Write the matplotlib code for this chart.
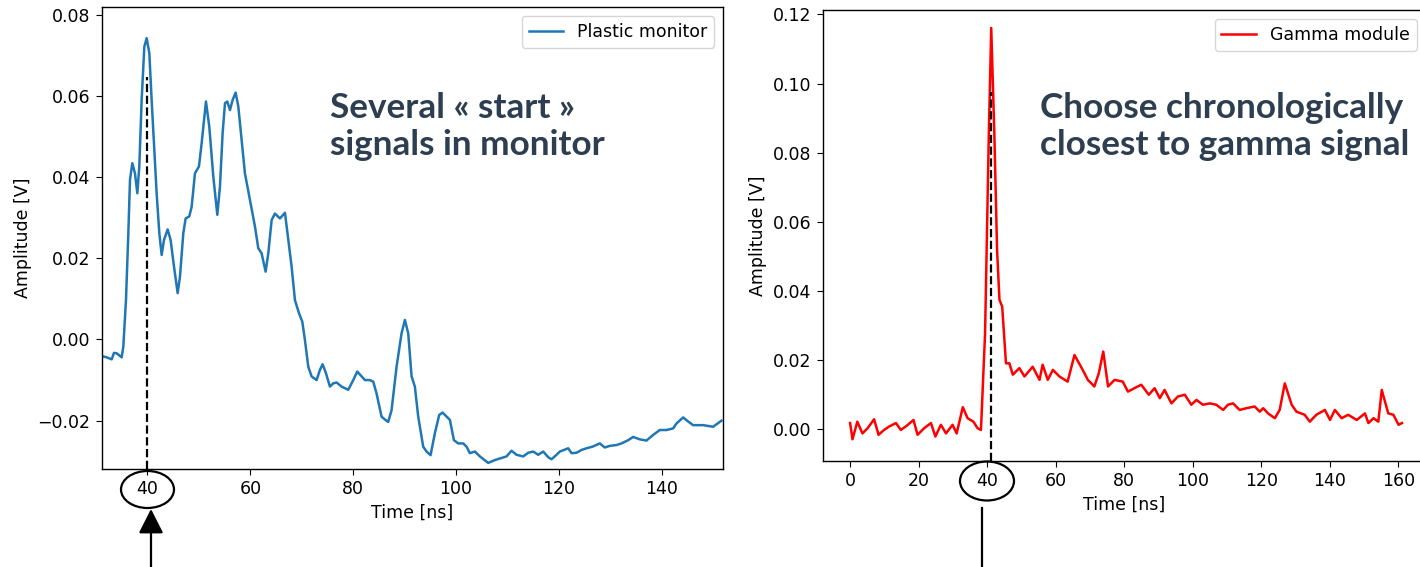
import numpy as np
import matplotlib.pyplot as plt
from matplotlib.patches import Ellipse, FancyArrowPatch
from matplotlib.lines import Line2D

plt.rcParams['font.size'] = 12.5
plt.rcParams['xtick.major.size'] = 4.5
plt.rcParams['ytick.major.size'] = 4.5
plt.rcParams['axes.linewidth'] = 1.0

# plastic monitor signal
mon_t = [31.09, 32.07, 33.04, 33.49, 34.01, 34.98, 35.3, 35.82, 36.28, 36.6, 37.05, 37.57,
         38.03, 38.41, 38.87, 39.39, 39.84, 40.36, 40.81, 41.33, 41.78, 42.3, 42.76, 43.21,
         43.92, 44.5, 45.15, 45.87, 46.32, 46.97, 47.42, 48.13, 48.59, 49.23, 50.01, 50.53,
         51.37, 52.02, 52.8, 53.58, 54.09, 54.61, 55.07, 55.52, 56.04, 56.56, 57.14, 57.66,
         58.3, 58.95, 59.92, 60.9, 61.54, 62.19, 62.97, 63.49, 64.14, 64.78, 65.76, 66.73,
         67.38, 68.02, 68.67, 69.45, 70.1, 70.61, 71.26, 71.91, 72.88, 73.53, 74.05, 74.7,
         75.47, 76.12, 76.77, 77.74, 79.04, 80.01, 80.79, 81.63, 82.28, 83.25, 83.9, 84.54,
         85.51, 86.16, 86.81, 87.46, 88.43, 89.4, 90.05, 90.7, 91.35, 91.99, 92.64, 93.61,
         94.26, 95.04, 95.88, 96.72, 97.37, 98.15, 98.8, 99.58, 100.42, 101.39, 102.04,
         102.68, 103.66, 104.63, 106.25, 107.54, 108.52, 109.81, 110.78, 111.76, 113.05,
         114.02, 115.0, 115.97, 116.94, 117.91, 118.56, 119.53, 120.18, 121.8, 122.45,
         123.42, 124.39, 125.36, 126.53, 127.95, 128.92, 129.9, 131.19, 132.16, 133.46,
         134.43, 135.73, 137.02, 138.32, 139.61, 140.91, 142.21, 142.85, 144.15, 145.12,
         146.09, 148.04, 149.98, 151.6]
mon_v = [-0.0041, -0.0044, -0.0049, -0.0033, -0.0034, -0.0044, -0.0018, 0.0097, 0.0262,
         0.0393, 0.0434, 0.0409, 0.036, 0.0426, 0.059, 0.0721, 0.0742, 0.0705, 0.059, 0.0467,
         0.036, 0.0262, 0.0208, 0.0245, 0.0271, 0.0245, 0.018, 0.0114, 0.0155, 0.0262,
         0.0298, 0.0303, 0.0327, 0.0409, 0.0426, 0.0483, 0.0586, 0.0524, 0.0401, 0.0307,
         0.0376, 0.0508, 0.0582, 0.0586, 0.0565, 0.059, 0.0608, 0.0574, 0.0491, 0.0409,
         0.0344, 0.0278, 0.0225, 0.0212, 0.0167, 0.0212, 0.0294, 0.031, 0.0298, 0.0312,
         0.0245, 0.018, 0.0097, 0.0065, 0.0044, -0.0001, -0.0067, -0.0091, -0.01, -0.0075,
         -0.0061, -0.0083, -0.0116, -0.0108, -0.0106, -0.0116, -0.0124, -0.01, -0.0079,
         -0.0091, -0.01, -0.01, -0.0104, -0.0133, -0.019, -0.0197, -0.0203, -0.0174, -0.0067,
         0.0015, 0.0048, 0.0015, -0.0091, -0.0116, -0.019, -0.0264, -0.0276, -0.0285,
         -0.0231, -0.0186, -0.018, -0.019, -0.0198, -0.0248, -0.0256, -0.0256, -0.0264,
         -0.028, -0.0276, -0.0288, -0.0304, -0.0297, -0.0293, -0.0288, -0.0274, -0.0284,
         -0.0288, -0.0279, -0.0276, -0.0284, -0.0276, -0.029, -0.0295, -0.0284, -0.0276,
         -0.0268, -0.028, -0.0279, -0.0272, -0.0268, -0.0264, -0.0256, -0.0266, -0.0262,
         -0.026, -0.0256, -0.0248, -0.024, -0.0246, -0.0249, -0.0235, -0.0223, -0.0223,
         -0.0219, -0.0207, -0.0192, -0.0202, -0.0211, -0.0211, -0.0215, -0.02]

# gamma module signal
gam_t = [0.0, 0.7, 2.1, 3.6, 5.1, 7.0, 8.3, 9.9, 11.4, 13.4, 14.8, 16.5, 18.5, 19.7, 21.6,
         23.6, 24.9, 26.5, 28.0, 29.9, 31.1, 32.9, 34.3, 36.0, 37.2, 38.2, 39.4, 40.5, 41.2,
         42.1, 42.9, 43.6, 44.4, 45.5, 46.5, 47.5, 49.4, 50.9, 53.3, 55.3, 56.2, 57.7, 59.2,
         61.1, 63.5, 65.5, 67.9, 69.4, 71.3, 72.6, 73.9, 75.3, 77.2, 79.6, 81.1, 83.0, 85.0,
         87.2, 88.9, 90.4, 91.8, 93.8, 95.7, 97.7, 99.6, 101.1, 103.0, 105.0, 106.9, 108.9,
         110.3, 111.8, 113.7, 115.7, 118.1, 119.6, 120.6, 122.0, 124.0, 125.4, 126.9, 128.9,
         130.3, 132.7, 134.2, 136.1, 138.6, 140.1, 141.5, 143.5, 145.4, 147.9, 150.3, 151.3,
         152.8, 154.2, 155.2, 157.1, 158.6, 160.1, 161.1]
gam_v = [0.0017, -0.003, 0.0021, -0.0013, 0.0002, 0.0028, -0.0017, -0.0003, 0.0007, 0.0017,
         -0.0003, 0.0009, 0.0026, -0.0017, 0.0002, 0.0017, -0.0022, 0.0012, -0.0013, 0.0012,
         -0.0013, 0.0063, 0.0031, 0.0021, 0.0002, -0.0003, 0.0277, 0.0857, 0.1161, 0.0857,
         0.0519, 0.0374, 0.0354, 0.019, 0.019, 0.0157, 0.0176, 0.0152, 0.018, 0.0142, 0.0186,
         0.0142, 0.0171, 0.0152, 0.0137, 0.0214, 0.0171, 0.0142, 0.0123, 0.0161, 0.0224,
         0.0123, 0.0142, 0.0137, 0.0108, 0.0118, 0.0128, 0.0099, 0.0118, 0.0089, 0.0113,
         0.0074, 0.0094, 0.0099, 0.007, 0.0084, 0.007, 0.0074, 0.007, 0.0055, 0.007, 0.0074,
         0.0055, 0.006, 0.0065, 0.005, 0.006, 0.0045, 0.0031, 0.0055, 0.0132, 0.007, 0.005,
         0.0041, 0.0021, 0.0041, 0.0055, 0.0026, 0.0055, 0.0031, 0.0041, 0.0026, 0.0045,
         0.0017, 0.0031, 0.0021, 0.0113, 0.0045, 0.0041, 0.0012, 0.0017]

W, H = 1420, 567
fig = plt.figure(figsize=(W / 100, H / 100), dpi=100)

ax1 = fig.add_axes([101.7 / W, 1 - 469 / H, (723 - 101.7) / W, (469 - 7.3) / H])
ax1.plot(mon_t, mon_v, color='#1f77b4', lw=1.8, label='Plastic monitor')
ax1.set_xlim(31.1, 151.9)
ax1.set_ylim(-0.0319, 0.0818)
ax1.vlines(40, -0.0319, 0.0647, colors='k', linestyles='--', lw=1.6)
ax1.set_xlabel('Time [ns]')
ax1.set_ylabel('Amplitude [V]')
ax1.legend(loc='upper right')

ax2 = fig.add_axes([822.7 / W, 1 - 460.7 / H, (1425.6 - 822.7) / W, (460.7 - 10) / H])
ax2.plot(gam_t, gam_v, color='red', lw=1.8, label='Gamma module')
ax2.set_xlim(-8, 168)
ax2.set_ylim(-0.0092, 0.1213)
ax2.vlines(41.1, -0.0092, 0.0977, colors='k', linestyles='--', lw=1.6)
ax2.set_xlabel('Time [ns]')
ax2.set_ylabel('Amplitude [V]')
ax2.legend(loc='upper right')

txt = dict(fontsize=25.3, fontweight='bold', color='#2c3e50', family=['Lato', 'DejaVu Sans'],
           va='baseline', ha='left')
fig.text(330 / W, 1 - 118 / H, 'Several « start »', **txt)
fig.text(330 / W, 1 - 155 / H, 'signals in monitor', **txt)
fig.text(1040 / W, 1 - 118 / H, 'Choose chronologically', **txt)
fig.text(1040 / W, 1 - 155 / H, 'closest to gamma signal', **txt)

# circles round the 40 tick labels
for cx, cy, w, h in [(147.5, 489.5, 53, 37), (987, 481, 54, 39)]:
    fig.add_artist(Ellipse((cx / W, 1 - cy / H), w / W, h / H, transform=fig.transFigure,
                           fill=False, ec='k', lw=1.6))

fig.add_artist(FancyArrowPatch((151 / W, 0), (151 / W, 1 - 509 / H), transform=fig.transFigure,
                               arrowstyle='-|>,head_length=0.75,head_width=0.38',
                               mutation_scale=20, color='k', lw=1.6, shrinkA=0, shrinkB=0))
fig.add_artist(Line2D([982.3 / W, 982.3 / W], [0, 1 - 508 / H], transform=fig.transFigure,
                      color='k', lw=1.6))

fig.savefig('out.png', dpi=100)
